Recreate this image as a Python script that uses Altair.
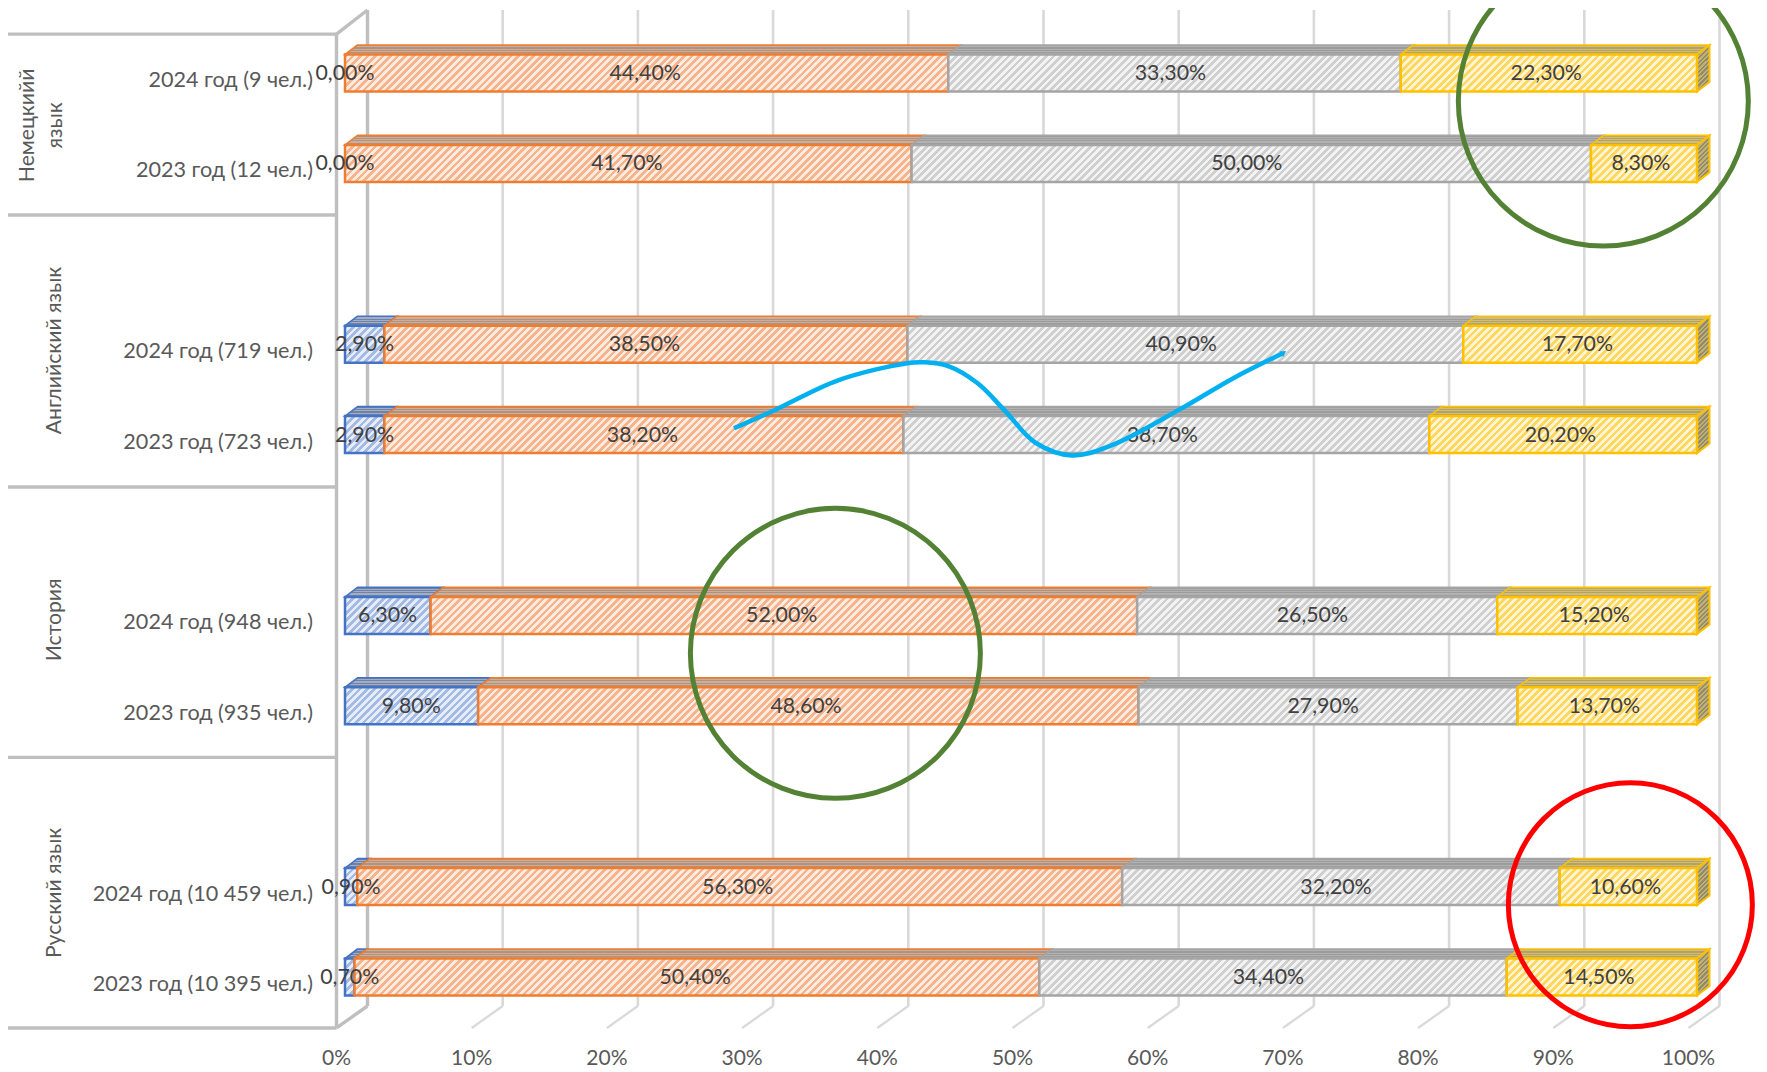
import math
import altair as alt

FONT = "Lato"
# ---- values
groups = ["Русский язык", "История", "Английский язык", "Немецкийй\nязык"]
group_bounds = [-0.564, 2.43, 5.42, 8.43, 10.43]   # separators, in row units
group_label_rows = [0.93, 3.95, 6.93, 9.42]
group_label_pct = [-20.8, -20.8, -20.8, -22.8]

row_pos = [0, 1, 3, 4, 6, 7, 9, 10]
row_labels = ["2023 год (10 395 чел.)", "2024 год (10 459 чел.)",
              "2023 год (935 чел.)", "2024 год (948 чел.)",
              "2023 год (723 чел.)", "2024 год (719 чел.)",
              "2023 год (12 чел.)", "2024 год (9 чел.)"]
s_blue = [0.7, 0.9, 9.8, 6.3, 2.9, 2.9, 0.0, 0.0]
s_orange = [50.4, 56.3, 48.6, 52.0, 38.2, 38.5, 41.7, 44.4]
s_gray = [34.4, 32.2, 27.9, 26.5, 38.7, 40.9, 50.0, 33.3]
s_yellow = [14.5, 10.6, 13.7, 15.2, 20.2, 17.7, 8.3, 22.3]
series = [s_blue, s_orange, s_gray, s_yellow]

ticks = [0, 10, 20, 30, 40, 50, 60, 70, 80, 90, 100]

# annotation shapes (percent, row)
curve_pct = [29.4, 32.4, 37.1, 42.2, 43.5, 45.2, 47.4, 49.4, 51.7, 54.4, 57.3, 62.5, 66.4, 70.0]
curve_row = [6.07, 6.27, 6.60, 6.79, 6.80, 6.76, 6.57, 6.27, 5.91, 5.77, 5.88, 6.29, 6.63, 6.90]
circle_pct = [93.7, 36.9, 95.7]
circle_row = [9.69, 3.58, 0.80]
circle_rad = [145, 145, 122]
circle_col = ["#548235", "#548235", "#FF0000"]

# ---- styles
stroke_c = ["#4472C4", "#ED7D31", "#A5A5A5", "#FFC000"]
fg_c = ["#A3BAE4", "#F7B48C", "#CFCFCF", "#FFD75E"]
bg_c = ["#E6ECF8", "#FDEBDF", "#F3F3F3", "#FFF5D2"]
top_a = ["#6F83A8", "#B3917B", "#9C9C9C", "#B5A25E"]
top_b = ["#A3AEC2", "#CBAE9B", "#B2B2B2", "#CFBD7D"]
PXX = 13.52    # px per percent
PXR = 90.4     # px per row
X0, Y0 = 336.5, 977.0
W, H = 1751, 1020
x_dom = [(8 - X0) / PXX, (8 + W - X0) / PXX]
y_dom = [(Y0 - 8 - H) / PXR, (Y0 - 8) / PXR]
xs = alt.Scale(domain=x_dom, nice=False, zero=False)
ys = alt.Scale(domain=y_dom, nice=False, zero=False)
BACK = 31 / PXX
BAR_IN = 8.5 / PXX
BAR_K = 1.005
BACK_TOP = (Y0 - 10) / PXR
BACK_BOT = (Y0 - 1006) / PXR
FRONT_TOP = group_bounds[-1]
FRONT_BOT = group_bounds[0]
HALF = 18.5 / PXR
DX = 12.5 / PXX
DY = 9.5 / PXR


def X(f, **k):
    return alt.X(f, type="quantitative", scale=xs, axis=None, **k)


def Y(f, **k):
    return alt.Y(f, type="quantitative", scale=ys, axis=None, **k)


def stripes(w, h, fg, bg, period=7.5):
    n = max(1, round((w + h) / period))
    k = (w + h) / (w * w + h * h)
    stops = []
    for i in range(n):
        a, b, c = i / n, (i + 0.5) / n, (i + 1) / n
        stops += [{"offset": a, "color": fg}, {"offset": b, "color": fg},
                  {"offset": b, "color": bg}, {"offset": c, "color": bg}]
    return {"gradient": "linear", "x1": 0, "y1": 0, "x2": k * w, "y2": k * h, "stops": stops}


def bands(a, b, n=4):
    stops = []
    for i in range(n):
        stops += [{"offset": i / n, "color": a}, {"offset": (i + .5) / n, "color": a},
                  {"offset": (i + .5) / n, "color": b}, {"offset": (i + 1) / n, "color": b}]
    return {"gradient": "linear", "x1": 0, "y1": 0, "x2": 0, "y2": 1, "stops": stops}


# ---- tables
bars, labels = [], []
tops = [[], [], [], []]
sides = []
END = BAR_IN + 100
for i, r in enumerate(row_pos):
    acc = BAR_IN
    raw = BAR_IN
    for j, s in enumerate(series):
        a = acc
        b = min(END, acc + s[i] * BAR_K)
        acc = b
        labels.append({"x": raw + s[i] / 2, "y": r, "t": f"{s[i]:.2f}%".replace(".", ",")})
        raw += s[i]
        if s[i] <= 0:
            continue
        bars.append({"x": a, "x2": b, "y": r - HALF, "y2": r + HALF, "stroke": stroke_c[j],
                     "grad": stripes((b - a) * PXX, 2 * HALF * PXR, fg_c[j], bg_c[j])})
        tops[j].append({"row": r, "y": r + HALF, "xa": a, "xb": b})
        tops[j].append({"row": r, "y": r + HALF + DY, "xa": a + DX, "xb": b + DX})
    sides.append({"row": r, "x": acc, "y": r - HALF, "y2": r + HALF})
    sides.append({"row": r, "x": acc + DX, "y": r - HALF + DY, "y2": r + HALF + DY})

wall_rows = [{"x": 0, "x2": 0, "y": FRONT_BOT, "y2": FRONT_TOP},
             {"x": BACK, "x2": BACK, "y": BACK_BOT, "y2": BACK_TOP},
             {"x": 0, "x2": BACK, "y": FRONT_TOP, "y2": BACK_TOP},
             {"x": 0, "x2": BACK, "y": FRONT_BOT, "y2": BACK_BOT}]
sep_rows = [{"x": (8 - X0) / PXX, "x2": 0, "y": g, "y2": g} for g in group_bounds]
grid_rows = [{"x": t + BACK, "x2": t + BACK, "y": BACK_BOT, "y2": BACK_TOP} for t in ticks[1:]]
floor_rows = [{"x": t, "x2": t + BACK, "y": FRONT_BOT, "y2": BACK_BOT} for t in ticks[1:]]
tick_rows = [{"x": t, "y": FRONT_BOT, "t": f"{t}%"} for t in ticks]

L = []


def rules(rows, color, width):
    return alt.Chart(alt.Data(values=rows)).mark_rule(color=color, strokeWidth=width).encode(
        x=X("x"), x2="x2:Q", y=Y("y"), y2="y2:Q")


L.append(rules(grid_rows, "#D9D9D9", 2.6))
L.append(rules(floor_rows, "#D9D9D9", 2.2))
L.append(rules(sep_rows, "#BFBFBF", 3.4))
L.append(rules(wall_rows, "#BFBFBF", 3.4))

# tick labels
L.append(alt.Chart(alt.Data(values=tick_rows)).mark_text(
    font=FONT, fontSize=21, color="#595959", baseline="middle", dy=31).encode(
    x=X("x"), y=Y("y"), text="t:N"))

# faces
for j in range(4):
    L.append(alt.Chart(alt.Data(values=tops[j])).mark_area(
        orient="horizontal", fill=bands(top_a[j], top_b[j]), stroke=stroke_c[j], strokeWidth=1.6,
    ).encode(y=Y("y"), x=X("xa"), x2="xb:Q", detail="row:N"))
L.append(alt.Chart(alt.Data(values=sides)).mark_area(
    orient="vertical", fill=stripes(12.5, 47, "#8F8A70", "#C4B26C", period=4.5),
    stroke="#FFC000", strokeWidth=2,
).encode(x=X("x"), y=Y("y"), y2="y2:Q", detail="row:N"))
L.append(alt.Chart(alt.Data(values=bars)).mark_bar(strokeWidth=2.5).encode(
    x=X("x"), x2="x2:Q", y=Y("y"), y2="y2:Q",
    fill=alt.Fill("grad:N", scale=None, legend=None),
    stroke=alt.Stroke("stroke:N", scale=None, legend=None)))

# data labels
L.append(alt.Chart(alt.Data(values=labels)).mark_text(
    font=FONT, fontSize=21.3, color="#404040", baseline="middle", dy=1).encode(
    x=X("x"), y=Y("y"), text="t:N"))

# category labels
cat_rows = [{"x": -1.74, "y": r, "t": t} for r, t in zip(row_pos, row_labels)]
L.append(alt.Chart(alt.Data(values=cat_rows)).mark_text(
    font=FONT, fontSize=21.6, color="#595959", align="right", baseline="middle", dy=8).encode(
    x=X("x"), y=Y("y"), text="t:N"))

# group labels
grp_rows = [{"x": p, "y": r, "t": t} for p, r, t in zip(group_label_pct, group_label_rows, groups)]
L.append(alt.Chart(alt.Data(values=grp_rows)).mark_text(
    font=FONT, fontSize=21.2, color="#595959", angle=270, align="center", baseline="middle",
    lineBreak="\n", lineHeight=28).encode(x=X("x"), y=Y("y"), text="t:N"))

# annotation curve
curve_rows = [{"x": a, "y": b, "o": i} for i, (a, b) in enumerate(zip(curve_pct, curve_row))]
L.append(alt.Chart(alt.Data(values=curve_rows)).mark_line(
    color="#00B0F0", strokeWidth=4.5, interpolate="catmull-rom").encode(
    x=X("x"), y=Y("y"), order="o:Q"))
L.append(alt.Chart(alt.Data(values=curve_rows[-1:])).mark_point(
    shape="triangle", filled=True, color="#00B0F0", size=45, angle=55, opacity=1).encode(
    x=X("x"), y=Y("y")))

# circles
circ_rows = [{"x": a, "y": b, "s": 4 * r * r, "c": c}
             for a, b, r, c in zip(circle_pct, circle_row, circle_rad, circle_col)]
L.append(alt.Chart(alt.Data(values=circ_rows)).mark_point(
    shape="circle", filled=False, strokeWidth=5, opacity=1).encode(
    x=X("x"), y=Y("y"),
    size=alt.Size("s:Q", scale=None, legend=None),
    stroke=alt.Stroke("c:N", scale=None, legend=None)))

chart = alt.layer(*L).properties(
    width=W, height=H,
    padding={"left": 0, "top": 0, "right": 0, "bottom": 44},
    autosize=alt.AutoSizeParams(type="none"),
).configure_view(stroke=None)

chart.save("out.html", embed_options={"renderer": "svg", "actions": False})
